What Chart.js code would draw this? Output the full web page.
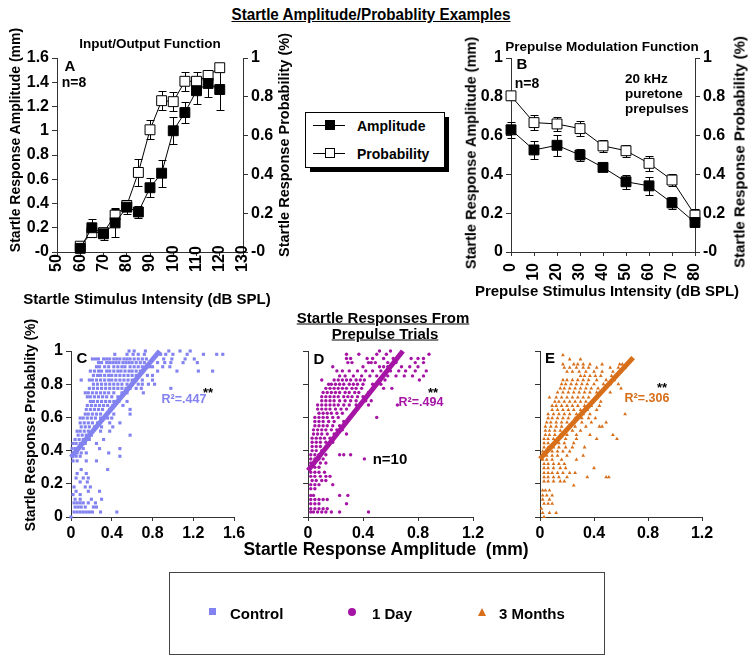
<!DOCTYPE html>
<html><head><meta charset="utf-8">
<script src="https://cdn.jsdelivr.net/npm/chart.js@4/dist/chart.umd.min.js"></script>
<style>
html,body{margin:0;padding:0;background:#fff;}
#fig{position:relative;width:755px;height:664px;overflow:hidden;font-family:"Liberation Sans",Arial,sans-serif;color:#000;background:#fff;}
.t{position:absolute;white-space:nowrap;font-weight:bold;transform:translate(-50%,-50%);line-height:1;}
.v{transform:translate(-50%,-50%) rotate(-90deg);}
.l{position:absolute;white-space:nowrap;font-weight:bold;line-height:1;transform:translateY(-50%);}
canvas{position:absolute;}
.box{position:absolute;border:1px solid #000;background:#fff;}
</style></head>
<body><div id="fig">
<canvas id="cA" width="300" height="285" style="left:0;top:30px"></canvas>
<canvas id="cB" width="300" height="285" style="left:455px;top:30px"></canvas>
<canvas id="cC" width="250" height="215" style="left:0;top:330px"></canvas>
<canvas id="cD" width="240" height="215" style="left:260px;top:330px"></canvas>
<canvas id="cE" width="240" height="215" style="left:490px;top:330px"></canvas>

<div id="mainTitle" class="t" style="left:371px;top:15px;font-family:'Liberation Sans Narrow',Arial;font-size:16px;text-decoration:underline;">Startle Amplitude/Probablity Examples</div>

<div class="t" style="left:150px;top:44px;font-size:13.5px">Input/Output Function</div>
<div class="t" style="left:70px;top:65px;font-size:15px">A</div>
<div class="t" style="left:74px;top:82px;font-size:14px">n=8</div>
<div class="t v" style="left:15px;top:140px;font-size:14px">Startle Response Amplitude (mm)</div>
<div class="t v" style="left:284px;top:145px;font-size:14.5px">Startle Response Probability (%)</div>
<div class="t" style="left:147px;top:298px;font-size:15px">Startle Stimulus Intensity (dB SPL)</div>

<div class="t" style="left:602px;top:47px;font-size:13.5px">Prepulse Modulation Function</div>
<div class="t" style="left:522px;top:63px;font-size:15px">B</div>
<div class="t" style="left:527px;top:83px;font-size:14px">n=8</div>
<div class="l" style="left:625px;top:79px;font-size:13.5px">20 kHz</div>
<div class="l" style="left:625px;top:94px;font-size:13.5px">puretone</div>
<div class="l" style="left:625px;top:109px;font-size:13.5px">prepulses</div>
<div class="t v" style="left:471px;top:153px;font-size:14.5px">Startle Response Amplitude (mm)</div>
<div class="t v" style="left:739px;top:152px;font-size:15px">Startle Response Probability (%)</div>
<div class="t" style="left:607px;top:290px;font-size:15px">Prepulse Stimulus Intensity (dB SPL)</div>

<div style="position:absolute;left:310px;top:117px;width:139px;height:55px;background:#000"></div>
<div class="box" style="left:305px;top:112px;width:138px;height:54px"></div>
<div style="position:absolute;left:313px;top:125px;width:32px;height:1px;background:#000"></div>
<div style="position:absolute;left:325px;top:120px;width:10px;height:10px;background:#000"></div>
<div class="l" style="left:357px;top:126px;font-size:14px">Amplitude</div>
<div style="position:absolute;left:313px;top:153px;width:32px;height:1px;background:#000"></div>
<div style="position:absolute;left:325px;top:148px;width:8px;height:8px;background:#fff;border:1px solid #000"></div>
<div class="l" style="left:357px;top:154px;font-size:14px">Probability</div>

<div class="t" style="left:383px;top:317px;font-size:15px;text-decoration:underline">Startle Responses From</div>
<div class="t" style="left:385px;top:333px;font-size:15px;text-decoration:underline">Prepulse Trials</div>

<div class="t v" style="left:30px;top:425px;font-size:14px">Startle Response Probablity (%)</div>
<div class="t" style="left:82px;top:357px;font-size:15px">C</div>
<div class="t" style="left:319px;top:358px;font-size:15px">D</div>
<div class="t" style="left:550px;top:357px;font-size:15px">E</div>
<div class="t" style="left:184px;top:399px;font-size:12.5px;color:rgb(130,130,240)">R²=.447</div>
<div class="t" style="left:208px;top:392px;font-size:13px">**</div>
<div class="t" style="left:421px;top:402px;font-size:12.5px;color:rgb(165,20,165)">R²=.494</div>
<div class="t" style="left:433px;top:392px;font-size:13px">**</div>
<div class="t" style="left:647px;top:398px;font-size:12.5px;color:rgb(215,110,25)">R²=.306</div>
<div class="t" style="left:662px;top:387px;font-size:13px">**</div>
<div class="t" style="left:390px;top:458px;font-size:15px">n=10</div>
<div class="t" style="left:386px;top:550px;font-size:17.5px">Startle Response Amplitude&nbsp;&nbsp;(mm)</div>

<div class="box" style="left:169px;top:572px;width:434px;height:81px;border-color:#444"></div>
<div style="position:absolute;left:209px;top:608px;width:7px;height:7px;background:rgb(130,130,240)"></div>
<div class="l" style="left:230px;top:613px;font-size:15px">Control</div>
<div style="position:absolute;left:348px;top:608px;width:8px;height:8px;border-radius:50%;background:rgb(165,20,165)"></div>
<div class="l" style="left:372px;top:613px;font-size:15px">1 Day</div>
<div style="position:absolute;left:478px;top:608px;width:0;height:0;border-left:4.5px solid transparent;border-right:4.5px solid transparent;border-bottom:8px solid rgb(215,110,25)"></div>
<div class="l" style="left:499px;top:613px;font-size:15px">3 Months</div>
</div>
<script>
// ---------- DATA ----------
// Panel A: input/output function
const ioIntensity = [60,65,70,75,80,85,90,95,100,105,110,115,120];
const ioAmplitude = [0.03,0.20,0.15,0.24,0.37,0.33,0.53,0.65,1.00,1.15,1.33,1.39,1.34];
const ioAmplitudeErr = [0.02,0.07,0.05,0.12,0.06,0.05,0.08,0.11,0.11,0.09,0.11,0.11,0.17];
const ioProbability = [0.03,0.10,0.10,0.19,0.24,0.41,0.63,0.78,0.775,0.88,0.88,0.91,0.95];
const ioProbabilityErr = [0.01,0.02,0.02,0.03,0.03,0.07,0.05,0.05,0.05,0.05,0.05,0.03,0.02];
// Panel B: prepulse modulation function
const ppIntensity = [0,10,20,30,40,50,60,70,80];
const ppAmplitude = [0.63,0.526,0.55,0.50,0.436,0.362,0.341,0.253,0.152];
const ppAmplitudeErr = [0.04,0.045,0.055,0.03,0.02,0.035,0.045,0.03,0.02];
const ppProbability = [0.805,0.667,0.66,0.636,0.547,0.522,0.457,0.371,0.19];
const ppProbabilityErr = [0.02,0.04,0.035,0.04,0.03,0.03,0.04,0.03,0.03];
// tick labels
const ioTicks = ['50','60','70','80','90','100','110','120','130'];
const ppTicks = ['0','10','20','30','40','50','60','70','80'];
const ampTicksA = ['-0','0.2','0.4','0.6','0.8','1','1.2','1.4','1.6'];
const probTicks = ['-0','0.2','0.4','0.6','0.8','1'];
const ampTicksB = ['0','0.2','0.4','0.6','0.8','1'];
const probTicksC = ['0','0.2','0.4','0.6','0.8','1'];
const ampTicksC = ['0','0.4','0.8','1.2','1.6'];
const ampTicksDE = ['0','0.4','0.8','1.2'];
// Panels C-E: rows of [probability, [amplitudes...]]
const controlRows = [
 [1.00,[0.57,0.62,0.73,0.96,1.07,1.17]],
 [0.98,[0.43,0.55,0.61,0.66,0.72,0.88,0.93,1.00,1.14,1.30,1.43,1.49]],
 [0.952,[0.21,0.24,0.27,0.32,0.35,0.38,0.42,0.45,0.48,0.52,0.55,0.58,0.62,0.66,0.70,0.74,0.91,0.99,1.12,1.21]],
 [0.93,[0.27,0.30,0.35,0.38,0.41,0.44,0.47,0.51,0.54,0.57,0.60,0.64,0.68,0.72,0.85,0.92,0.98,1.10,1.24]],
 [0.905,[0.25,0.28,0.33,0.37,0.42,0.46,0.50,0.53,0.58,0.62,0.66,0.70,0.77,0.80,0.90,0.97]],
 [0.879,[0.19,0.23,0.27,0.30,0.35,0.38,0.42,0.46,0.49,0.53,0.57,0.60,0.64,0.68,0.71,0.85,1.04,1.25,1.39]],
 [0.853,[0.22,0.26,0.29,0.33,0.37,0.40,0.44,0.48,0.52,0.56,0.60,0.64,0.67,0.75,0.80]],
 [0.825,[0.10,0.18,0.21,0.25,0.29,0.33,0.37,0.40,0.44,0.48,0.52,0.56,0.60,0.64,0.70,0.80]],
 [0.80,[0.22,0.26,0.30,0.34,0.38,0.42,0.46,0.50,0.55,0.60,0.66,0.70,0.76,0.82]],
 [0.775,[0.18,0.22,0.26,0.30,0.34,0.38,0.42,0.46,0.50,0.54,0.58,0.64,0.69,0.98]],
 [0.748,[0.14,0.17,0.21,0.25,0.29,0.33,0.37,0.42,0.50,0.55,0.71]],
 [0.724,[0.16,0.19,0.23,0.27,0.31,0.35,0.40,0.46]],
 [0.696,[0.19,0.22,0.26,0.30,0.34,0.38,0.42,0.47,0.55]],
 [0.672,[0.16,0.20,0.24,0.28,0.32,0.36,0.41,0.51]],
 [0.648,[0.15,0.19,0.23,0.27,0.31,0.38,0.58]],
 [0.62,[0.14,0.17,0.21,0.25,0.29,0.35,0.42,0.58]],
 [0.596,[0.09,0.12,0.16,0.20,0.24,0.29,0.36,0.40]],
 [0.567,[0.09,0.13,0.17,0.21,0.26,0.38,0.48]],
 [0.543,[0.10,0.14,0.18,0.23,0.30,0.41]],
 [0.517,[0.06,0.09,0.13,0.17,0.21,0.29,0.38]],
 [0.493,[0.07,0.11,0.15,0.20,0.58]],
 [0.467,[0.04,0.08,0.12,0.18,0.32]],
 [0.443,[0.02,0.05,0.09,0.14,0.25]],
 [0.412,[0.01,0.04,0.08,0.12,0.28,0.48]],
 [0.386,[0.02,0.06,0.10,0.15,0.37]],
 [0.366,[0.01,0.05,0.09,0.48]],
 [0.338,[0.02,0.06,0.15,0.25]],
 [0.286,[0.10,0.36]],
 [0.262,[0.06,0.15]],
 [0.235,[0.05,0.12,0.17]],
 [0.211,[0.09,0.16]],
 [0.181,[0.03,0.14,0.19]],
 [0.155,[0.05,0.17,0.28]],
 [0.135,[0.02,0.09]],
 [0.107,[0.04,0.09,0.20,0.30]],
 [0.085,[0.03,0.06,0.09,0.12,0.17,0.24]],
 [0.06,[0.04,0.07,0.10,0.14,0.22,0.25]],
 [0.03,[0.03,0.06,0.09,0.12,0.15,0.18,0.21,0.29,0.45]],
 [0.0,[0.0]]
];
const oneDayRows = [
 [1.00,[0.52,0.60]],
 [0.98,[0.28,0.37,0.50,0.57,0.88]],
 [0.955,[0.28,0.31,0.43,0.47,0.55,0.62,0.75,0.80,0.84]],
 [0.93,[0.29,0.32,0.44,0.46,0.49,0.58,0.64,0.78,0.84]],
 [0.905,[0.18,0.40,0.52,0.55,0.58,0.68,0.74,0.80]],
 [0.88,[0.21,0.25,0.30,0.36,0.42,0.47,0.53,0.60,0.66,0.71,0.78,0.86]],
 [0.85,[0.23,0.27,0.33,0.39,0.45,0.50,0.58,0.64,0.70,0.76,0.84]],
 [0.825,[0.10,0.19,0.22,0.25,0.28,0.31,0.35,0.38,0.41,0.56,0.81]],
 [0.80,[0.15,0.17,0.20,0.23,0.26,0.30,0.33,0.36,0.40,0.47,0.53]],
 [0.775,[0.13,0.16,0.19,0.22,0.25,0.28,0.32,0.35,0.39,0.55,0.61]],
 [0.75,[0.11,0.14,0.17,0.20,0.23,0.27,0.30,0.34,0.37,0.44]],
 [0.725,[0.10,0.13,0.16,0.19,0.22,0.26,0.29,0.32,0.36,0.40,0.43]],
 [0.70,[0.10,0.13,0.16,0.19,0.23,0.27,0.31,0.35,0.42,0.46]],
 [0.675,[0.07,0.10,0.13,0.16,0.19,0.22,0.26,0.30,0.35,0.44,0.65]],
 [0.65,[0.07,0.10,0.13,0.16,0.20,0.24,0.28,0.36]],
 [0.625,[0.08,0.11,0.14,0.17,0.21,0.25,0.33]],
 [0.60,[0.05,0.08,0.11,0.14,0.18,0.22,0.30,0.50]],
 [0.575,[0.05,0.08,0.11,0.15,0.19,0.26]],
 [0.55,[0.05,0.08,0.11,0.14,0.18,0.23]],
 [0.525,[0.04,0.07,0.10,0.13,0.17,0.21,0.25]],
 [0.50,[0.04,0.07,0.10,0.14,0.19,0.28]],
 [0.475,[0.03,0.06,0.09,0.12,0.16]],
 [0.45,[0.03,0.06,0.09,0.13,0.18]],
 [0.425,[0.03,0.06,0.09,0.13]],
 [0.40,[0.03,0.06,0.10]],
 [0.375,[0.02,0.05,0.08,0.13,0.23,0.26,0.31]],
 [0.35,[0.02,0.05,0.08,0.11,0.41]],
 [0.325,[0.02,0.05,0.09,0.13]],
 [0.30,[0.02,0.05,0.08]],
 [0.27,[0.02,0.05,0.08,0.12]],
 [0.245,[0.02,0.05,0.09,0.13,0.16]],
 [0.22,[0.03,0.06,0.10,0.13]],
 [0.195,[0.02,0.05,0.08,0.18]],
 [0.17,[0.02,0.05]],
 [0.13,[0.02,0.04,0.23,0.29]],
 [0.105,[0.02,0.05,0.08,0.11,0.14]],
 [0.08,[0.02,0.05,0.08,0.28]],
 [0.05,[0.02,0.05,0.08,0.11,0.14]],
 [0.03,[0.02,0.04,0.07,0.10,0.13,0.17,0.23,0.44]]
];
const threeMonthRows = [
 [0.975,[0.17]],
 [0.95,[0.22,0.30]],
 [0.92,[0.17,0.25,0.28,0.32,0.37,0.46,0.59,0.61]],
 [0.90,[0.18,0.22,0.27,0.32,0.36,0.42,0.52,0.58,0.63]],
 [0.875,[0.20,0.24,0.29,0.34,0.40,0.46,0.54,0.60]],
 [0.85,[0.30,0.33,0.37,0.41,0.45,0.53]],
 [0.825,[0.17,0.20,0.24,0.28,0.32,0.36,0.42,0.49,0.55]],
 [0.80,[0.16,0.19,0.23,0.27,0.31,0.35,0.40,0.47,0.52,0.58]],
 [0.775,[0.15,0.18,0.22,0.26,0.30,0.34,0.38,0.43,0.60]],
 [0.75,[0.13,0.17,0.21,0.25,0.29,0.33,0.37,0.42,0.44,0.52]],
 [0.72,[0.07,0.12,0.16,0.20,0.24,0.28,0.32,0.36,0.42]],
 [0.695,[0.11,0.14,0.18,0.22,0.26,0.30,0.34,0.39,0.45]],
 [0.67,[0.09,0.12,0.16,0.20,0.24,0.28,0.33,0.38,0.44]],
 [0.645,[0.09,0.13,0.17,0.21,0.25,0.30,0.35,0.42]],
 [0.62,[0.06,0.10,0.14,0.18,0.22,0.27,0.32,0.37,0.63]],
 [0.595,[0.06,0.09,0.13,0.17,0.21,0.26,0.31,0.36,0.41]],
 [0.57,[0.05,0.08,0.12,0.16,0.20,0.25,0.31,0.38,0.49]],
 [0.545,[0.04,0.08,0.12,0.16,0.21,0.26,0.34,0.44,0.46]],
 [0.52,[0.04,0.07,0.11,0.15,0.19,0.24,0.30]],
 [0.495,[0.04,0.07,0.11,0.15,0.20,0.27,0.37,0.54]],
 [0.47,[0.03,0.06,0.10,0.14,0.19,0.27,0.42,0.57]],
 [0.445,[0.03,0.06,0.10,0.14,0.18,0.25]],
 [0.42,[0.03,0.06,0.10,0.14,0.19,0.24,0.33]],
 [0.395,[0.02,0.05,0.09,0.13,0.17,0.22]],
 [0.37,[0.02,0.05,0.09,0.13,0.20,0.32]],
 [0.345,[0.02,0.05,0.09,0.16,0.27]],
 [0.32,[0.03,0.06,0.10,0.14,0.18]],
 [0.295,[0.03,0.06,0.10,0.15,0.19,0.40]],
 [0.265,[0.03,0.06,0.09,0.13,0.17,0.22,0.26]],
 [0.24,[0.03,0.06,0.10,0.14,0.20,0.35,0.49,0.51]],
 [0.215,[0.03,0.06,0.10,0.15,0.18]],
 [0.19,[0.25]],
 [0.16,[0.02,0.04,0.07]],
 [0.13,[0.02,0.05,0.09]],
 [0.105,[0.02,0.07]],
 [0.08,[0.03,0.06,0.09]],
 [0.05,[0.01]],
 [0.025,[0.02,0.07,0.12]],
 [0.0,[0.03]]
];
// regression lines (endpoints)
const controlFit = [[0,0.36],[0.87,1.0]];
const oneDayFit = [[0,0.28],[0.69,1.0]];
const threeMonthFit = [[0,0.35],[0.69,0.96]];

// ---------- STYLE / HELPERS ----------
const FONT = '"Liberation Sans", Arial, sans-serif';
Chart.defaults.font.family = FONT;
Chart.defaults.color = '#000';
const tickFont = {family: FONT, size: 16, weight: 'bold'};
const AXIS = '#333';
const cControl = 'rgb(130,130,240)', cDay = 'rgb(165,20,165)', cMonth = 'rgb(215,110,25)';

const errorBars = {
  id: 'errorBars',
  beforeDatasetsDraw(chart) {
    const ctx = chart.ctx;
    chart.data.datasets.forEach((ds, i) => {
      if (!ds.errors) return;
      const meta = chart.getDatasetMeta(i);
      const xs = chart.scales[meta.xAxisID], ys = chart.scales[meta.yAxisID];
      ctx.save();
      ctx.strokeStyle = '#000'; ctx.lineWidth = 1;
      ds.data.forEach((p, j) => {
        const e = ds.errors[j];
        const px = Math.round(xs.getPixelForValue(p.x)) + 0.5;
        const top = Math.round(ys.getPixelForValue(p.y + e)) + 0.5;
        const bot = Math.round(ys.getPixelForValue(p.y - e)) + 0.5;
        ctx.beginPath();
        ctx.moveTo(px, top); ctx.lineTo(px, bot);
        ctx.moveTo(px - 4, top); ctx.lineTo(px + 4, top);
        ctx.moveTo(px - 4, bot); ctx.lineTo(px + 4, bot);
        ctx.stroke();
      });
      ctx.restore();
    });
  }
};

// vertical (rotated) x tick labels, positioned with the x scale
const vertTicks = {
  id: 'vertTicks',
  afterDraw(chart, args, opts) {
    if (!opts || !opts.labels) return;
    const ctx = chart.ctx, xs = chart.scales.x;
    const base = xs.top + opts.offset;
    ctx.save();
    ctx.font = 'bold 16px ' + FONT;
    ctx.fillStyle = '#000';
    ctx.textBaseline = 'middle';
    ctx.textAlign = opts.align;
    opts.labels.forEach((lab, i) => {
      const px = xs.getPixelForValue(opts.values[i]);
      ctx.save();
      ctx.translate(px, base);
      ctx.rotate(-Math.PI / 2);
      ctx.fillText(lab, 0, 0);
      ctx.restore();
    });
    ctx.restore();
  }
};

function pts(xs, ys) { return xs.map((x, i) => ({x, y: ys[i]})); }
function rowsToPts(rows) { return rows.flatMap(([y, xs]) => xs.map(x => ({x, y}))); }
function fitPts(f) { return f.map(([x, y]) => ({x, y})); }

function yAxis(pos, min, max, step, labels, width, showLabels = true) {
  return {
    type: 'linear', position: pos, min, max,
    ticks: {stepSize: step, font: tickFont, color: '#000', padding: 3, display: showLabels,
            callback: (v, i) => labels[i]},
    grid: {drawOnChartArea: false, drawTicks: true, tickLength: 5, color: AXIS},
    border: {display: true, color: AXIS, width: 1},
    afterFit: s => { s.width = width; }
  };
}
function xAxis(min, max, step, height, showLabels, pad, labels) {
  return {
    type: 'linear', position: 'bottom', min, max,
    ticks: {stepSize: step, font: tickFont, color: '#000', autoSkip: false, display: showLabels,
            maxRotation: 0, padding: pad,
            callback: labels ? ((v, i) => labels[i]) : (v => String(v))},
    grid: {drawOnChartArea: false, drawTicks: true, tickLength: 4, color: AXIS},
    border: {display: true, color: AXIS, width: 1},
    afterFit: s => { s.height = height; }
  };
}
const basePlugins = {legend: {display: false}, tooltip: {enabled: false}};

function lineSet(data, errors, filled, yID) {
  return {
    type: 'line', data, errors, yAxisID: yID,
    borderColor: '#000', borderWidth: 1, tension: 0,
    pointStyle: 'rect', pointRadius: 7, pointBorderWidth: 1,
    pointBackgroundColor: filled ? '#000' : '#fff', pointBorderColor: '#000', clip: false
  };
}

// Panel A
new Chart(document.getElementById('cA'), {
  type: 'line',
  data: {datasets: [
    lineSet(pts(ioIntensity, ioAmplitude), ioAmplitudeErr, true, 'yL'),
    lineSet(pts(ioIntensity, ioProbability), ioProbabilityErr, false, 'yR')
  ]},
  options: {
    responsive: false, animation: false,
    plugins: Object.assign({}, basePlugins, {
      vertTicks: {labels: ioTicks, values: ioTicks.map(Number), align: 'left', offset: 20}
    }),
    layout: {padding: {left: 0, right: 12, top: 28, bottom: 13}},
    scales: {
      x: xAxis(50, 130, 10, 50, false, 2),
      yL: yAxis('left', 0, 1.6, 0.2, ampTicksA, 57),
      yR: yAxis('right', 0, 1, 0.2, probTicks, 45)
    }
  },
  plugins: [errorBars, vertTicks]
});

// Panel B
new Chart(document.getElementById('cB'), {
  type: 'line',
  data: {datasets: [
    lineSet(pts(ppIntensity, ppAmplitude), ppAmplitudeErr, true, 'yL'),
    lineSet(pts(ppIntensity, ppProbability), ppProbabilityErr, false, 'yR')
  ]},
  options: {
    responsive: false, animation: false,
    plugins: Object.assign({}, basePlugins, {
      vertTicks: {labels: ppTicks, values: ppTicks.map(Number), align: 'right', offset: 11}
    }),
    layout: {padding: {left: 0, right: 15, top: 28, bottom: 13}},
    scales: {
      x: xAxis(0, 80, 10, 50, false, 8),
      yL: yAxis('left', 0, 1, 0.2, ampTicksB, 56),
      yR: yAxis('right', 0, 1, 0.2, probTicks, 45)
    }
  },
  plugins: [errorBars, vertTicks]
});

// Panels C-E
function scatterPanel(id, rows, fit, color, style, radius, xmax, xLabels, yWidth, padRight, showY) {
  new Chart(document.getElementById(id), {
    type: 'scatter',
    data: {datasets: [
      {data: fitPts(fit), showLine: true, borderColor: color, borderWidth: 5, pointRadius: 0, clip: false},
      {data: rowsToPts(rows), pointStyle: style, pointRadius: radius, backgroundColor: color,
       borderColor: color, borderWidth: 0, clip: false}
    ]},
    options: {
      responsive: false, animation: false, plugins: basePlugins,
      layout: {padding: {left: 0, right: padRight, top: 21, bottom: 4}},
      scales: {
        x: xAxis(0, xmax, 0.4, 24, true, 3, xLabels),
        y: yAxis('left', 0, 1, 0.2, probTicksC, yWidth, showY)
      }
    }
  });
}
scatterPanel('cC', controlRows, controlFit, cControl, 'rect', 2.2, 1.6, ampTicksC, 71, 16, true);
scatterPanel('cD', oneDayRows, oneDayFit, cDay, 'circle', 1.7, 1.2, ampTicksDE, 48, 27, false);
scatterPanel('cE', threeMonthRows, threeMonthFit, cMonth, 'triangle', 2.2, 1.2, ampTicksDE, 50, 28, false);

// fit main title width
(function(){
  const el = document.getElementById('mainTitle');
  const w = el.getBoundingClientRect().width;
  const s = 279 / w;
  el.style.transform = 'translate(-50%,-50%) scaleX(' + s + ')';
})();
</script>
</body></html>
